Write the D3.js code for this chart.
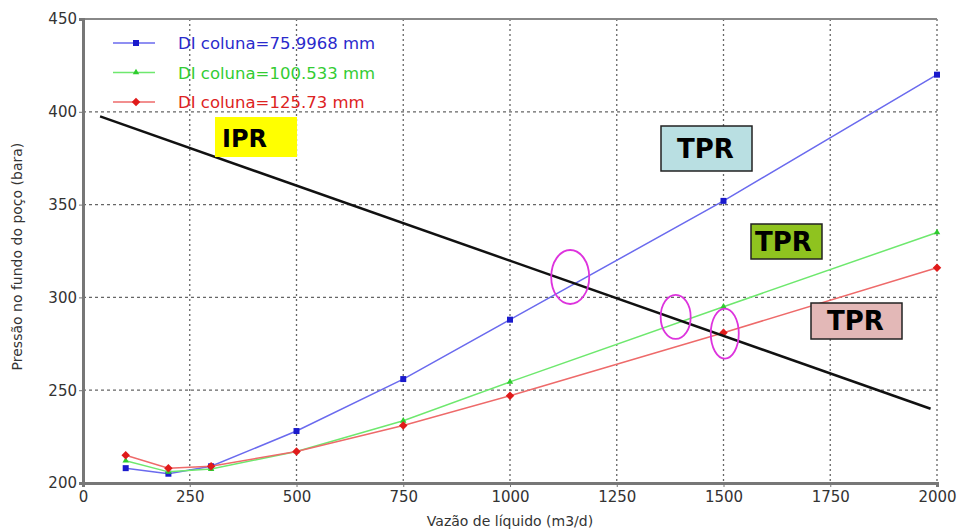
<!DOCTYPE html>
<html>
<head>
<meta charset="utf-8">
<script src="https://cdn.jsdelivr.net/npm/d3@7"></script>
<style>
  body { margin: 0; background: #fff; }
  svg { display: block; font-family: "DejaVu Sans", Verdana, sans-serif; }
</style>
</head>
<body>
<svg id="chart" width="961" height="531"></svg>
<script>
// vazão (m3/d)
var vazao = [100, 200, 300, 500, 750, 1000, 1500, 2000];
// TPR curves (bara)
var tprAzul = [208, 205, 209, 228, 256, 288, 352, 420];
var tprVerde = [212, 206, 207.5, 217, 233.5, 254.5, 295, 335];
var tprVermelho = [215, 208, 209, 217, 231, 247, 281, 316];
// IPR line
var iprVazao = [40, 1985];
var iprPressao = [397.5, 240];
var legendas = ['DI coluna=75.9968 mm', 'DI coluna=100.533 mm', 'DI coluna=125.73 mm'];
var xTicks = [0, 250, 500, 750, 1000, 1250, 1500, 1750, 2000];
var yTicks = [200, 250, 300, 350, 400, 450];
// intersections marked with ellipses
var cruzVazao = [1141, 1388, 1503];
var cruzPressao = [311, 289.5, 280.5];

(function () {
  var svg = d3.select('#chart'),
      pl = 83, pr = 937, pt = 19, pb = 483;

  var x = d3.scaleLinear().domain([0, 2000]).range([pl, pr]);
  var y = d3.scaleLinear().domain([200, 450]).range([pb, pt]);

  // grid
  svg.append('g').selectAll('line')
    .data(xTicks.slice(1))
    .enter().append('line')
    .attr('x1', d => x(d)).attr('x2', d => x(d))
    .attr('y1', pt).attr('y2', pb)
    .attr('stroke', '#666').attr('stroke-width', 1.3).attr('stroke-dasharray', '2,3');
  svg.append('g').selectAll('line')
    .data(yTicks.slice(1, -1))
    .enter().append('line')
    .attr('x1', pl).attr('x2', pr)
    .attr('y1', d => y(d)).attr('y2', d => y(d))
    .attr('stroke', '#666').attr('stroke-width', 1.3).attr('stroke-dasharray', '3,3');

  // top frame
  svg.append('line')
    .attr('x1', pl).attr('x2', pr).attr('y1', pt).attr('y2', pt)
    .attr('stroke', '#888').attr('stroke-width', 2);

  // axes
  var xAxis = svg.append('g')
    .attr('transform', 'translate(0,' + pb + ')')
    .call(d3.axisBottom(x).tickValues(xTicks).tickFormat(d3.format('d')).tickSize(4).tickPadding(4));
  var yAxis = svg.append('g')
    .attr('transform', 'translate(' + pl + ',0)')
    .call(d3.axisLeft(y).tickValues(yTicks).tickFormat(d3.format('d')).tickSize(4).tickPadding(2));
  [xAxis, yAxis].forEach(function (a) {
    a.select('.domain').attr('stroke', '#777').attr('stroke-width', 3);
    a.selectAll('.tick line').attr('stroke', '#777');
    a.selectAll('.tick text').attr('fill', '#333').style('font-size', '15px').style('font-family', '"DejaVu Sans", Verdana, sans-serif');
  });

  svg.append('text')
    .attr('x', x(1000)).attr('y', 526)
    .attr('text-anchor', 'middle').attr('fill', '#333').style('font-size', '14px')
    .text('Vazão de líquido (m3/d)');
  svg.append('text')
    .attr('transform', 'translate(22,' + y(322) + ') rotate(-90)')
    .attr('text-anchor', 'middle').attr('fill', '#333').style('font-size', '14px')
    .text('Pressão no fundo do poço (bara)');

  // TPR series
  var series = [
    { vals: tprAzul, line: '#6a6aee', mark: '#1a1acc', text: '#2a2acc', shape: d3.symbolSquare, size: 36, rot: 0 },
    { vals: tprVerde, line: '#6ee86e', mark: '#2ecc2e', text: '#33cc33', shape: d3.symbolTriangle, size: 18, rot: 0 },
    { vals: tprVermelho, line: '#ee6a6a', mark: '#e01a1a', text: '#dd2222', shape: d3.symbolSquare, size: 36, rot: 45 }
  ];

  var line = d3.line().x(d => x(d[0])).y(d => y(d[1]));

  series.forEach(function (s) {
    var pts = vazao.map((v, i) => [v, s.vals[i]]);
    svg.append('path')
      .attr('d', line(pts))
      .attr('fill', 'none').attr('stroke', s.line).attr('stroke-width', 1.5);
    svg.append('g').selectAll('path')
      .data(pts)
      .enter().append('path')
      .attr('transform', d => 'translate(' + x(d[0]) + ',' + y(d[1]) + ') rotate(' + s.rot + ')')
      .attr('d', d3.symbol().type(s.shape).size(s.size))
      .attr('fill', s.mark);
  });

  // IPR
  svg.append('path')
    .attr('d', line(iprVazao.map((v, i) => [v, iprPressao[i]])))
    .attr('stroke', '#111').attr('stroke-width', 2.5).attr('fill', 'none');

  // legend
  var leg = svg.append('g').selectAll('g')
    .data(series)
    .enter().append('g')
    .attr('transform', (d, i) => 'translate(113,' + (43 + i * 29.5) + ')');
  leg.append('line').attr('x1', 0).attr('x2', 42).attr('stroke', d => d.line).attr('stroke-width', 1.5);
  leg.append('path').attr('transform', d => 'translate(23,0) rotate(' + d.rot + ')')
    .attr('d', d => d3.symbol().type(d.shape).size(d.size)()).attr('fill', d => d.mark);
  leg.append('text').attr('x', 65).attr('y', 6)
    .attr('fill', d => d.text).style('font-size', '16.5px')
    .text((d, i) => legendas[i]);

  // ellipses
  svg.append('g').selectAll('ellipse')
    .data(cruzVazao)
    .enter().append('ellipse')
    .attr('cx', d => x(d)).attr('cy', (d, i) => y(cruzPressao[i]))
    .attr('rx', (d, i) => [19, 15, 14][i]).attr('ry', (d, i) => [27, 22, 25][i])
    .attr('fill', 'none').attr('stroke', '#dd33dd').attr('stroke-width', 1.8);

  // labels
  var caixas = [
    { t: 'IPR', x0: 215, y0: 117, w: 82, h: 40, tx: 222, ty: 147, fs: 24, fill: '#ffff00', border: 'none' },
    { t: 'TPR', x0: 661, y0: 126, w: 91, h: 45, tx: 677, ty: 158, fs: 26, fill: '#b9dfe2', border: '#222' },
    { t: 'TPR', x0: 751, y0: 224, w: 71, h: 35, tx: 755, ty: 251, fs: 26, fill: '#8fc31f', border: '#222' },
    { t: 'TPR', x0: 811, y0: 303, w: 91, h: 36, tx: 827, ty: 330, fs: 26, fill: '#e3b8b7', border: '#222' }
  ];
  var cx = svg.append('g').selectAll('g').data(caixas).enter().append('g');
  cx.append('rect')
    .attr('x', d => d.x0).attr('y', d => d.y0).attr('width', d => d.w).attr('height', d => d.h)
    .attr('fill', d => d.fill).attr('stroke', d => d.border).attr('stroke-width', 1.5);
  cx.append('text')
    .attr('x', d => d.tx).attr('y', d => d.ty)
    .attr('fill', '#000')
    .style('font-size', d => d.fs + 'px').style('font-weight', 'bold')
    .text(d => d.t);
})();
</script>
</body>
</html>
